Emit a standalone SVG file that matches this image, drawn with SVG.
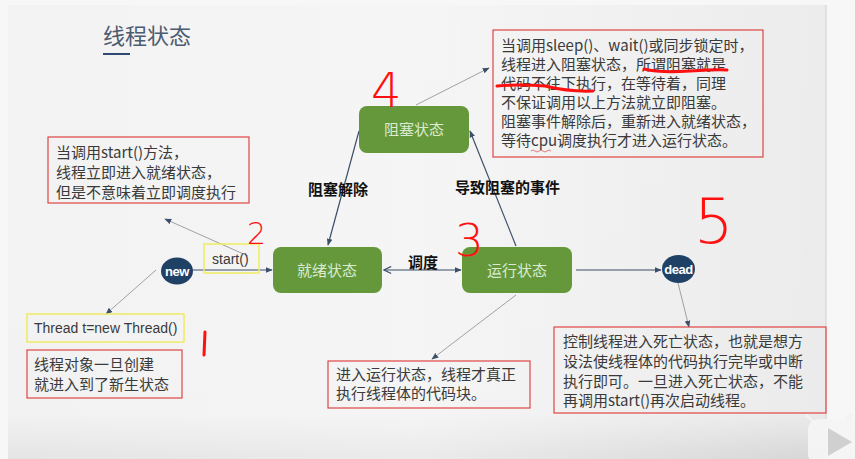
<svg xmlns="http://www.w3.org/2000/svg" width="855" height="459" viewBox="0 0 855 459">
<defs>
<linearGradient id="bg" x1="0" y1="0" x2="0" y2="1">
<stop offset="0" stop-color="#ececec"/>
<stop offset="0.9" stop-color="#ebebeb"/>
<stop offset="1" stop-color="#d6d6d6"/>
</linearGradient>
<linearGradient id="bgh" x1="0" y1="0" x2="1" y2="0">
<stop offset="0" stop-color="#ffffff" stop-opacity="0.35"/>
<stop offset="0.5" stop-color="#ffffff" stop-opacity="0.5"/>
<stop offset="1" stop-color="#ffffff" stop-opacity="0"/>
</linearGradient>
<marker id="arr" viewBox="0 0 10 10" refX="9" refY="5" markerWidth="7" markerHeight="7" orient="auto" markerUnits="userSpaceOnUse">
<path d="M0,1 L10,5 L0,9 z" fill="#3b4f69"/>
</marker>
<marker id="arrs" viewBox="0 0 10 10" refX="9" refY="5" markerWidth="7" markerHeight="7" orient="auto" markerUnits="userSpaceOnUse">
<path d="M0,1 L10,5 L0,9 z" fill="#3b4f69"/>
</marker>
<marker id="open" viewBox="0 0 10 10" refX="1" refY="5" markerWidth="9" markerHeight="9" orient="auto" markerUnits="userSpaceOnUse">
<path d="M9,1 L1,5 L9,9" fill="none" stroke="#3b4f69" stroke-width="1.3"/>
</marker>
</defs>
<style>
.t{font-family:"Noto Sans CJK SC","Noto Sans",sans-serif;font-size:15px;fill:#3a3a3a}
.lat{font-family:"Liberation Sans","Noto Sans",sans-serif;font-size:14px;fill:#3a3a3a}
.b{font-family:"Noto Sans CJK SC",sans-serif;font-size:15px;font-weight:bold;fill:#111}
.g rect{fill:#64983a}
.g text{font-family:"Noto Sans CJK SC",sans-serif;font-size:15px;fill:#dcebd0;text-anchor:middle}
.c ellipse{fill:#1f4166}
.c text{font-family:"Liberation Sans","Noto Sans",sans-serif;font-size:13px;font-weight:bold;fill:#ffffff;text-anchor:middle;letter-spacing:-0.5px}
.red{fill:none;stroke:#e04545;stroke-width:1.2}
.yel{fill:none;stroke:#f0ec60;stroke-width:1.5}
.main{stroke:#3b4f69;stroke-width:1.2;fill:none}
.thin{stroke:#8c8c8c;stroke-width:0.8;fill:none}
.hand{font-family:"DejaVu Sans",sans-serif;font-weight:200;fill:#ff1010}
.ink{stroke:#ff1010;stroke-width:3;fill:none;stroke-linecap:round}
</style>
<rect width="855" height="459" fill="#f7f7f7"/>
<rect x="8" y="5" width="818" height="454" fill="url(#bg)"/>
<rect x="8" y="5" width="818" height="454" fill="url(#bgh)"/>
<line x1="826" y1="5" x2="826" y2="459" stroke="#d0d0d0" stroke-width="1"/>

<g id="title">
<text x="103" y="44" style="font-family:'Noto Sans CJK SC',sans-serif;font-size:22px;fill:#4b5b70">线程状态</text>
<rect x="103" y="53" width="27" height="2" fill="#2e4a74"/>
</g>

<g id="connectors">
<line class="main" x1="193" y1="270" x2="272" y2="270" marker-end="url(#arr)"/>
<line class="main" x1="384" y1="270" x2="461" y2="270" marker-start="url(#open)" marker-end="url(#arr)"/>
<line class="main" x1="576" y1="270" x2="661" y2="270" marker-end="url(#arr)"/>
<line class="main" x1="359" y1="131" x2="328" y2="245" marker-end="url(#arr)"/>
<line class="main" x1="516" y1="246" x2="470" y2="131" marker-end="url(#arr)"/>
<line class="thin" x1="416" y1="105" x2="489" y2="68" marker-end="url(#arrs)"/>
<line class="thin" x1="248" y1="256" x2="165" y2="219" marker-end="url(#arrs)"/>
<line class="thin" x1="156" y1="270" x2="106" y2="314" marker-end="url(#arrs)"/>
<line class="thin" x1="516" y1="295" x2="432" y2="359" marker-end="url(#arrs)"/>
<line class="thin" x1="678" y1="283" x2="689" y2="327" marker-end="url(#arrs)"/>
</g>

<g id="lbl-unblock"><text class="b" x="308" y="195">阻塞解除</text></g>
<g id="lbl-block"><text class="b" x="455" y="193">导致阻塞的事件</text></g>
<g id="lbl-sched"><text class="b" x="408" y="268">调度</text></g>

<g id="blocked" class="g"><rect x="359" y="106" width="110" height="47" rx="8"/><text x="414" y="135">阻塞状态</text></g>
<g id="ready" class="g"><rect x="273" y="247" width="109" height="46" rx="8"/><text x="327" y="276">就绪状态</text></g>
<g id="running" class="g"><rect x="462" y="247" width="110" height="46" rx="8"/><text x="517" y="276">运行状态</text></g>

<g id="new" class="c"><ellipse cx="177" cy="271" rx="16" ry="13.5"/><text x="177" y="275.5">new</text></g>
<g id="dead" class="c"><ellipse cx="678.5" cy="269" rx="16.5" ry="14"/><text x="678.5" y="273.5">dead</text></g>

<g id="note-start">
<rect class="red" x="48" y="137" width="201" height="66"/>
<text class="t" x="56" y="158">当调用start()方法，</text>
<text class="t" x="56" y="178">线程立即进入就绪状态，</text>
<text class="t" x="56" y="198">但是不意味着立即调度执行</text>
</g>

<g id="start-call">
<rect class="yel" x="204" y="244" width="55" height="29"/>
<text class="lat" x="212" y="264">start()</text>
</g>

<g id="thread-new">
<rect class="yel" x="27" y="314" width="157" height="28"/>
<text class="lat" x="34" y="333">Thread t=new Thread()</text>
</g>

<g id="note-new">
<rect class="red" x="27" y="350" width="155" height="48"/>
<text class="t" x="34" y="370">线程对象一旦创建</text>
<text class="t" x="34" y="390">就进入到了新生状态</text>
</g>

<g id="note-run">
<rect class="red" x="328" y="361" width="202" height="47"/>
<text class="t" x="336" y="380">进入运行状态，线程才真正</text>
<text class="t" x="336" y="399">执行线程体的代码块。</text>
</g>

<g id="note-block">
<rect class="red" x="493" y="30" width="270" height="127"/>
<text class="t" x="501" y="51">当调用sleep()、wait()或同步锁定时，</text>
<text class="t" x="501" y="70">线程进入阻塞状态，所谓阻塞就是</text>
<text class="t" x="501" y="89">代码不往下执行，在等待着，同理</text>
<text class="t" x="501" y="108">不保证调用以上方法就立即阻塞。</text>
<text class="t" x="501" y="127">阻塞事件解除后，重新进入就绪状态，</text>
<text class="t" x="501" y="146">等待cpu调度执行才进入运行状态。</text>
<path d="M531,151 q2,-2 4,0 t4,0 t4,0 t4,0 t4,0" fill="none" stroke="#e04545" stroke-width="0.7"/>
</g>

<g id="note-dead">
<rect class="red" x="554" y="327" width="272" height="86"/>
<text class="t" x="563" y="347">控制线程进入死亡状态，也就是想方</text>
<text class="t" x="563" y="367">设法使线程体的代码执行完毕或中断</text>
<text class="t" x="563" y="387">执行即可。一旦进入死亡状态，不能</text>
<text class="t" x="563" y="406">再调用start()再次启动线程。</text>
</g>

<g id="annotations">
<path class="ink" d="M644,69 Q660,73 690,71 T727,70"/>
<path class="ink" d="M497,86 Q520,84 545,86 Q570,92 593,91"/>
<text class="hand" x="371" y="107" font-size="48">4</text>
<text class="hand" x="247" y="244" font-size="30">2</text>
<text class="hand" x="455" y="256" font-size="45">3</text>
<text class="hand" x="694" y="243" font-size="62">5</text>
<path class="ink" d="M205,332 L204,355"/>
</g>

<g id="player">
<path d="M806,415 L818,426 M842,426 L852,414" stroke="#f2f2f2" stroke-width="3"/>
<rect x="808" y="419" width="60" height="45" rx="10" fill="#f4f4f4" opacity="0.95"/>
<path d="M828,428 L852,442 L828,456 z" fill="#d0d0d0"/>
</g>
</svg>
